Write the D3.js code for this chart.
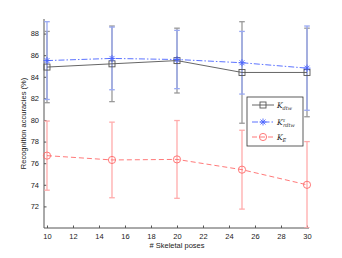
<!DOCTYPE html>
<html>
<head>
<meta charset="utf-8">
<script src="https://cdn.jsdelivr.net/npm/d3@7"></script>
<style>
  body { margin: 0; background: #fff; }
  svg { font-family: "Liberation Sans", Arial, sans-serif; }
</style>
</head>
<body>
<div id="chart"></div>
<script>
// Data
const poses = [10, 15, 20, 25, 30];
const dtwMean = [84.9, 85.2, 85.5, 84.4, 84.4];
const dtwErr = [3.3, 3.5, 3.0, 4.7, 4.1];
const rdtwMean = [85.5, 85.7, 85.6, 85.3, 84.8];
const rdtwErr = [3.6, 2.9, 2.7, 2.9, 3.9];
const keMean = [76.7, 76.3, 76.35, 75.4, 74.0];
const keErr = [3.2, 3.5, 3.6, 3.65, 4.0];
const xTicks = [10, 12, 14, 16, 18, 20, 22, 24, 26, 28, 30];
const yTicks = [72, 74, 76, 78, 80, 82, 84, 86, 88];

const width = 342, height = 258;
const margin = { top: 19, right: 35, bottom: 30, left: 44 };
const innerW = width - margin.left - margin.right;
const innerH = height - margin.top - margin.bottom;

const svg = d3.select('#chart')
  .append('svg')
    .attr('width', width)
    .attr('height', height);

const x = d3.scaleLinear().domain([9.77, 30]).range([margin.left, margin.left + innerW]);
const y = d3.scaleLinear().domain([70, 89.35]).range([margin.top + innerH, margin.top]);

// Series definitions
const series = [
  { mean: rdtwMean, err: rdtwErr, line: '#4a63ff', bar: '#98a8f2', dash: '6,2,1.5,2', marker: 'star' },
  { mean: dtwMean, err: dtwErr, line: '#555', bar: '#999', dash: null, marker: 'square' },
  { mean: keMean, err: keErr, line: '#ff6a6a', bar: '#ffabab', dash: '5,3', marker: 'circle' }
];

// Axes (ticks pointing inward, like matlab)
const xAxis = svg.append('g')
  .attr('transform', 'translate(0,' + (margin.top + innerH) + ')')
  .call(d3.axisBottom(x).tickValues(xTicks).tickSize(-2.5).tickPadding(6));
const yAxis = svg.append('g')
  .attr('transform', 'translate(' + margin.left + ',0)')
  .call(d3.axisLeft(y).tickValues(yTicks).tickSize(-2.5).tickPadding(5));
[xAxis, yAxis].forEach(a => {
  a.select('.domain').attr('stroke', '#555').attr('d', null);
  a.selectAll('.tick line').attr('stroke', '#555');
  a.selectAll('.tick text').attr('font-size', 7.5).attr('fill', '#222');
});
xAxis.select('.domain').attr('d', 'M' + margin.left + ',0H' + (margin.left + innerW + 2));
yAxis.select('.domain').attr('d', 'M0,' + (margin.top + innerH) + 'V' + margin.top);

const plot = svg.append('g');
const clip = svg.append('clipPath').attr('id', 'clip')
  .append('rect').attr('x', margin.left).attr('y', margin.top - 2)
  .attr('width', innerW + 10).attr('height', innerH + 2);

// Error bars
series.slice().reverse().forEach(s => {
  const g = plot.append('g').attr('stroke', s.bar).attr('stroke-width', 1.3).attr('clip-path', 'url(#clip)');
  poses.forEach((p, i) => {
    const lo = y(s.mean[i] - s.err[i]), hi = y(s.mean[i] + s.err[i]);
    g.append('line').attr('x1', x(p)).attr('x2', x(p)).attr('y1', lo).attr('y2', hi);
    g.append('line').attr('x1', x(p) - 2.8).attr('x2', x(p) + 2.8).attr('y1', lo).attr('y2', lo);
    g.append('line').attr('x1', x(p) - 2.8).attr('x2', x(p) + 2.8).attr('y1', hi).attr('y2', hi);
  });
});

function drawMarker(g, kind, cx, cy, color) {
  if (kind === 'square') {
    g.append('rect').attr('x', cx - 3).attr('y', cy - 3).attr('width', 6).attr('height', 6)
      .attr('fill', 'none').attr('stroke', color).attr('stroke-width', 0.9);
  } else if (kind === 'circle') {
    g.append('circle').attr('cx', cx).attr('cy', cy).attr('r', 3.6)
      .attr('fill', 'none').attr('stroke', color).attr('stroke-width', 0.9);
  } else {
    const r = 3.5;
    [0, 45, 90, 135].forEach(a => {
      const dx = r * Math.cos(a * Math.PI / 180), dy = r * Math.sin(a * Math.PI / 180);
      g.append('line').attr('x1', cx - dx).attr('x2', cx + dx).attr('y1', cy - dy).attr('y2', cy + dy)
        .attr('stroke', color).attr('stroke-width', 0.9);
    });
  }
}

const line = d3.line().x(d => x(d[0])).y(d => y(d[1]));

// Lines and markers
series.slice().reverse().forEach(s => {
  plot.append('path')
    .datum(poses.map((p, i) => [p, s.mean[i]]))
    .attr('fill', 'none')
    .attr('stroke', s.line)
    .attr('stroke-width', 0.9)
    .attr('stroke-dasharray', s.dash)
    .attr('d', line);
  poses.forEach((p, i) => drawMarker(plot, s.marker, x(p), y(s.mean[i]), s.line));
});

// Axis labels
svg.append('text')
  .attr('x', 177).attr('y', 248)
  .attr('text-anchor', 'middle').attr('font-size', 7.5).attr('fill', '#222')
  .text('# Skeletal poses');
svg.append('text')
  .attr('transform', 'translate(26,' + (margin.top + innerH / 2) + ') rotate(-90)')
  .attr('text-anchor', 'middle').attr('font-size', 7.5).attr('fill', '#222')
  .text('Recognition accuracies (%)');

// Legend
const legend = svg.append('g').attr('transform', 'translate(247,97)');
legend.append('rect').attr('width', 56).attr('height', 49)
  .attr('fill', '#fff').attr('stroke', '#333').attr('stroke-width', 0.8);
const legendItems = [
  { s: series[1], y: 8, main: 'K', sub: 'dtw', sup: null },
  { s: series[0], y: 25, main: 'K', sub: 'rdtw', sup: 'τ' },
  { s: series[2], y: 40, main: 'K', sub: 'E', sup: null }
];
legendItems.forEach(it => {
  legend.append('line').attr('x1', 5).attr('x2', 27).attr('y1', it.y).attr('y2', it.y)
    .attr('stroke', it.s.line).attr('stroke-width', 0.9).attr('stroke-dasharray', it.s.dash);
  drawMarker(legend, it.s.marker, 16, it.y, it.s.line);
  const t = legend.append('text').attr('x', 30).attr('y', it.y + 2.5)
    .attr('font-family', '"DejaVu Serif", serif').attr('font-size', 7.5).attr('fill', '#222');
  t.append('tspan').attr('font-style', 'italic').text(it.main);
  if (it.sup) {
    t.append('tspan').attr('font-size', 5).attr('dy', -3).attr('font-style', 'italic').text(it.sup);
    t.append('tspan').attr('font-size', 5).attr('dx', -2.5).attr('dy', 5).attr('font-style', 'italic').text(it.sub);
  } else {
    t.append('tspan').attr('font-size', 5).attr('dy', 2).attr('font-style', 'italic').text(it.sub);
  }
});
</script>
</body>
</html>
